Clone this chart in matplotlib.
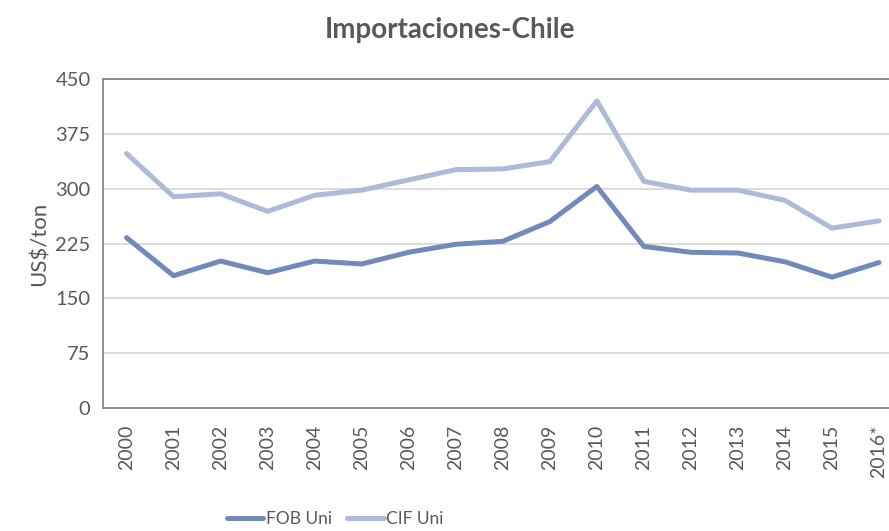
import matplotlib
matplotlib.use('Agg')
import matplotlib.pyplot as plt

plt.rcParams['font.family'] = ['Lato', 'DejaVu Sans']

# datos
years = ['2000', '2001', '2002', '2003', '2004', '2005', '2006', '2007', '2008',
         '2009', '2010', '2011', '2012', '2013', '2014', '2015', '2016*']
fob_uni = [233, 181, 201, 185, 201, 197, 213, 224, 228, 255, 303, 221, 213, 212, 200, 179, 199]
cif_uni = [348, 289, 293, 269, 291, 298, 312, 326, 327, 337, 420, 310, 298, 298, 284, 246, 256]
y_ticks = [0, 75, 150, 225, 300, 375, 450]

COLOR_FOB = '#7189bb'
COLOR_CIF = '#adbad8'
COLOR_TEXT = '#595959'
COLOR_GRID = '#d9d9d9'
COLOR_BORDER = '#868686'

fig = plt.figure(figsize=(8.89, 5.31), dpi=100)
ax = fig.add_axes([0.1159, 0.2316, 0.8993, 0.6196])

x = list(range(len(years)))
ax.plot(x, fob_uni, color=COLOR_FOB, linewidth=3.6, solid_capstyle='round', label='FOB Uni', zorder=3)
ax.plot(x, cif_uni, color=COLOR_CIF, linewidth=3.6, solid_capstyle='round', label='CIF Uni', zorder=3)

ax.set_xlim(-0.5, len(years) - 0.5)
ax.set_ylim(0, 450)
ax.set_yticks(y_ticks)
ax.set_xticks(x)
ax.set_xticklabels(years, rotation=90, fontsize=14, color=COLOR_TEXT)
ax.tick_params(axis='y', labelsize=14.5, labelcolor=COLOR_TEXT, length=0, pad=9)
ax.tick_params(axis='x', length=0, pad=12)

ax.grid(axis='y', color=COLOR_GRID, linewidth=1.3)
ax.set_axisbelow(True)
for s in ax.spines.values():
    s.set_color(COLOR_BORDER)
    s.set_linewidth(1.3)

ax.set_ylabel('US$/ton', fontsize=16, color=COLOR_TEXT, labelpad=4)

fig.text(0.506, 0.944, 'Importaciones-Chile', ha='center', va='center',
         fontsize=20, fontweight='bold', color=COLOR_TEXT)

# leyenda abajo
fig.legend(loc='center', bbox_to_anchor=(0.377, 0.022), ncol=2, frameon=False,
           fontsize=12.5, labelcolor=COLOR_TEXT, handlelength=2.1, columnspacing=0.9,
           handletextpad=0.15, borderpad=0)

fig.savefig('out.png', dpi=100, facecolor='white')
